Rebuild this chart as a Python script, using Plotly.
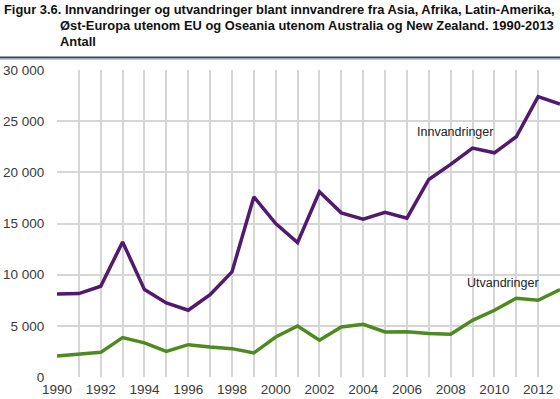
import plotly.graph_objects as go

years = list(range(1990, 2014))
innvandringer = [8100, 8150, 8870, 13200, 8540, 7240, 6520, 8050, 10270, 17600,
                 15000, 13140, 18100, 16040, 15420, 16100, 15520, 19300, 20770,
                 22370, 21910, 23480, 27390, 26670]
utvandringer = [2050, 2220, 2410, 3850, 3330, 2510, 3160, 2930, 2770, 2350,
                3910, 4990, 3590, 4890, 5150, 4400, 4430, 4240, 4170, 5540,
                6520, 7690, 7500, 8540]
y_ticks = [0, 5000, 10000, 15000, 20000, 25000, 30000]
x_ticks = list(range(1990, 2013, 2))

W, H = 560, 399
L, R, T, B = 57, 0, 70, 22
PW, PH = W - L - R, H - T - B


def px(x):
    return (x - L) / PW


def py(y):
    return (H - B - y) / PH


FONT = "Arial, Liberation Sans, sans-serif"
PURPLE = "#511a6c"
GREEN = "#4d8a1f"
GRID = "#d6d6d6"
TICK_COLOR = "#3a3a3a"

fig = go.Figure()
fig.add_trace(go.Scatter(x=years, y=innvandringer, mode="lines",
                         line=dict(color=PURPLE, width=3.5), name="Innvandringer"))
fig.add_trace(go.Scatter(x=years, y=utvandringer, mode="lines",
                         line=dict(color=GREEN, width=3.5), name="Utvandringer"))

fig.update_layout(
    width=W, height=H,
    margin=dict(l=L, r=R, t=T, b=B, pad=0),
    paper_bgcolor="white", plot_bgcolor="white",
    showlegend=False,
    separators=", ",
    font=dict(family=FONT, size=13.5, color=TICK_COLOR),
)
fig.update_xaxes(range=[1990, 2013], tickvals=x_ticks,
                 showgrid=True, gridcolor=GRID, gridwidth=1.5,
                 zeroline=False, showline=False, ticks="", automargin=False,
                 ticklabelstandoff=2,
                 tickfont=dict(size=13.5, color=TICK_COLOR),
                 minor=dict(dtick=1, tick0=1990, showgrid=True,
                            gridcolor=GRID, gridwidth=1.5))
fig.update_yaxes(range=[0, 30000], tickvals=y_ticks, tickformat=",d",
                 showgrid=True, gridcolor=GRID, gridwidth=1.5,
                 zeroline=False, showline=False, ticks="outside", ticklen=9,
                 tickcolor="rgba(0,0,0,0)", automargin=False,
                 tickfont=dict(size=13.5, color=TICK_COLOR))

# series labels
fig.add_annotation(x=2008.2, y=23900, text="Innvandringer", showarrow=False,
                   font=dict(size=12.5, color="#222222"))
fig.add_annotation(x=2010.4, y=9200, text="Utvandringer", showarrow=False,
                   font=dict(size=12.5, color="#222222"))

# title
title_font = dict(family=FONT, size=12.9, color="#111111")
fig.add_annotation(xref="paper", yref="paper", x=px(2), y=py(9.5),
                   xanchor="left", yanchor="middle", showarrow=False,
                   text="<b>Figur 3.6. Innvandringer og utvandringer blant innvandrere fra Asia, Afrika, Latin-Amerika,</b>",
                   font=title_font)
fig.add_annotation(xref="paper", yref="paper", x=px(58), y=py(26),
                   xanchor="left", yanchor="middle", showarrow=False,
                   text="<b>Øst-Europa utenom EU og Oseania utenom Australia og New Zealand. 1990-2013</b>",
                   font=title_font)
fig.add_annotation(xref="paper", yref="paper", x=px(58), y=py(41.7),
                   xanchor="left", yanchor="middle", showarrow=False,
                   text="<b>Antall</b>", font=title_font)

# header rule
fig.add_shape(type="line", xref="paper", yref="paper",
              x0=px(0), x1=px(W), y0=py(57.5), y1=py(57.5),
              line=dict(color="#34446a", width=2))
fig.add_shape(type="line", xref="paper", yref="paper",
              x0=px(0), x1=px(W), y0=py(59.2), y1=py(59.2),
              line=dict(color="#a9b2c6", width=1))

fig.write_html("out.html",
               config={"displayModeBar": False},
               post_script="document.body.style.margin='0';document.body.style.overflow='hidden';")
